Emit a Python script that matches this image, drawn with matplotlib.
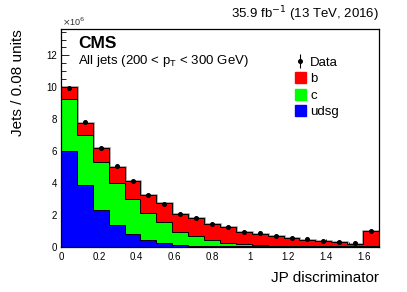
import numpy as np
import matplotlib
matplotlib.use("Agg")
import matplotlib.pyplot as plt
from matplotlib.ticker import MultipleLocator
from matplotlib.patches import Patch

plt.rcParams['font.family'] = ['Liberation Sans', 'DejaVu Sans']

# ---- data (in units of 10^6 jets per bin) ----
x_range = (0.0, 1.68)
n_bins = 20
udsg = [6.00, 3.85, 2.30, 1.34, 0.78, 0.40, 0.23, 0.12, 0.06, 0.04,
        0.03, 0.02, 0.015, 0.01, 0.01, 0.008, 0.006, 0.005, 0.004, 0.01]
c_jets = [3.27, 3.18, 2.99, 2.68, 2.21, 1.69, 1.29, 0.82, 0.61, 0.36,
          0.23, 0.15, 0.075, 0.05, 0.04, 0.032, 0.024, 0.02, 0.016, 0.04]
b_jets = [0.73, 0.73, 0.88, 1.00, 1.13, 1.13, 1.20, 1.13, 1.11, 1.01,
          0.96, 0.78, 0.73, 0.60, 0.51, 0.40, 0.33, 0.245, 0.18, 0.93]
data = [9.96, 7.82, 6.19, 5.04, 4.13, 3.25, 2.71, 2.06, 1.77, 1.41,
        1.24, 0.95, 0.83, 0.68, 0.57, 0.46, 0.38, 0.30, 0.22, 1.00]
data_err = [0.03] * n_bins

edges = np.linspace(x_range[0], x_range[1], n_bins + 1)
centers = 0.5 * (edges[:-1] + edges[1:])
l1 = np.array(udsg)
l2 = l1 + np.array(c_jets)
l3 = l2 + np.array(b_jets)

fig = plt.figure(figsize=(4.07, 2.92), dpi=100)
ax = fig.add_axes([61/407, 1 - 246.7/292, (379 - 61)/407, (246.7 - 29.3)/292])

# grey outline of total
ax.stairs(l3, edges, baseline=0, color='#909090', lw=1.8, zorder=1)
ax.stairs(l3, edges, baseline=l2, fill=True, color='#ff0000', zorder=2)
ax.stairs(l2, edges, baseline=l1, fill=True, color='#00ff00', zorder=2)
ax.stairs(l1, edges, baseline=0, fill=True, color='#0000ff', zorder=2)
for lev in (l1, l2, l3):
    ax.stairs(lev, edges, baseline=0, color='black', lw=0.7, zorder=3)

eb = ax.errorbar(centers, data, yerr=data_err, fmt='o', ms=2.6, color='black',
                 elinewidth=0.8, capsize=0, zorder=4)

ax.set_xlim(*x_range)
ax.set_ylim(0, 13.64)
ax.xaxis.set_minor_locator(MultipleLocator(0.04))
ax.yaxis.set_minor_locator(MultipleLocator(0.5))
ax.set_xticks(np.arange(0, 1.61, 0.2))
ax.set_xticklabels(['0', '0.2', '0.4', '0.6', '0.8', '1', '1.2', '1.4', '1.6'])
ax.set_yticks(np.arange(0, 12.1, 2))
ax.set_yticklabels(['0', '2', '4', '6', '8', '10', '12'])
ax.tick_params(which='both', direction='in', top=False, right=False,
               labelsize=7, width=0.6)
ax.tick_params(which='major', length=6)
ax.tick_params(which='minor', length=3.5)
ax.tick_params(axis='y', pad=3)
ax.tick_params(axis='x', pad=4)
for s in ax.spines.values():
    s.set_linewidth(0.9)

ax.set_xlabel('JP discriminator', fontsize=11, loc='right', labelpad=6)
ax.set_ylabel('Jets / 0.08 units', fontsize=11, loc='top', labelpad=15)

fig.text(62/407, 1 - 22/292, r'$\times$10$^{6}$', fontsize=6.5, ha='left', va='center', color='#333333')
fig.text(379/407, 1 - 14/292, r'35.9 fb$^{-1}$ (13 TeV, 2016)', fontsize=9.5,
         ha='right', va='center')
fig.text(78/407, 1 - 44/292, 'CMS', fontsize=12.5, fontweight='bold', ha='left', va='center')
fig.text(78/407, 1 - 61/292, r'All jets (200 < p$_{\mathregular{T}}$ < 300 GeV)', fontsize=9.5,
         ha='left', va='center')

handles = [
    eb,
    Patch(facecolor='#ff0000', edgecolor='#ff0000'),
    Patch(facecolor='#00ff00', edgecolor='#00ff00'),
    Patch(facecolor='#0000ff', edgecolor='#0000ff'),
]
leg = ax.legend(handles, ['Data', 'b', 'c', 'udsg'], loc='upper left',
                bbox_to_anchor=(295/407, 1 - 56/292), bbox_transform=fig.transFigure,
                frameon=False, fontsize=9.5, handlelength=0.8, handleheight=0.9,
                handletextpad=0.35, labelspacing=0.25, borderpad=0, borderaxespad=0)

fig.savefig('out.png', dpi=100)
